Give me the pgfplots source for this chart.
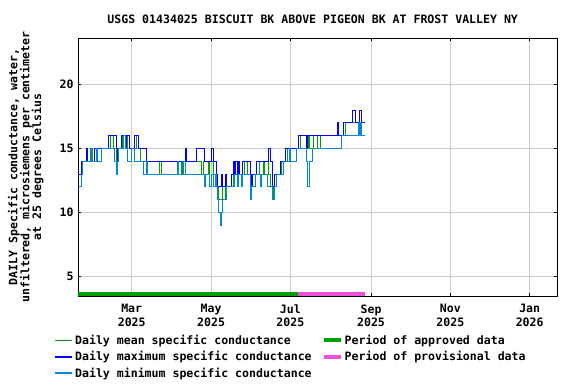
\documentclass[border=0pt]{standalone}
\usepackage{pgfplots}
\pgfplotsset{compat=1.18}
\usepackage{fontspec}
\setmainfont{DejaVu Sans Mono}
\definecolor{cmean}{RGB}{0,160,0}
\definecolor{cmax}{RGB}{0,0,255}
\definecolor{cmin}{RGB}{0,136,210}
\definecolor{capp}{RGB}{0,160,0}
\definecolor{cprov}{RGB}{240,80,224}
\definecolor{cgrid}{RGB}{204,204,204}
\begin{document}
\begin{tikzpicture}[font=\bfseries\fontsize{11.6}{12}\selectfont]
\useasboundingbox (0,0) rectangle (576bp,384bp);
\begin{axis}[
  at={(78bp,88bp)}, anchor=south west,
  scale only axis, width=479bp, height=258bp,
  xmin=17.7, xmax=386, ymin=3.43, ymax=23.66,
  axis line style={black, line width=0.9bp},
  xtick={59,120,181,243,304,365},
  xticklabels={{Mar\\[1.5bp]2025},{May\\[1.5bp]2025},{Jul\\[1.5bp]2025},{Sep\\[1.5bp]2025},{Nov\\[1.5bp]2025},{Jan\\[1.5bp]2026}},
  xticklabel style={align=center, yshift=-5bp},
  ytick={5,10,15,20},
  yticklabel style={xshift=-1bp},
  /pgf/number format/assume math mode=true,
  grid=major,
  major grid style={cgrid, line width=0.9bp},
  tick style={black, line width=0.7bp},
  major tick length=3bp,
  tick align=inside,
  title={USGS 01434025 BISCUIT BK ABOVE PIGEON BK AT FROST VALLEY NY},
  title style={at={(axis description cs:0.49,1.05)}, anchor=center},
  ylabel={DAILY Specific conductance, water,\\unfiltered, microsiemens per centimeter\\at 25 degrees Celsius},
  ylabel style={at={(axis description cs:-0.109,0.5)}, anchor=center, align=center},
  legend columns=2,
  legend cell align=left,
  legend style={draw=none, fill=none, at={(axis description cs:-0.056,-0.135)}, anchor=north west,
    /tikz/every even column/.append style={column sep=8bp}, row sep=1.5bp,
    font=\bfseries\fontsize{11.6}{12}\selectfont},
]
\addlegendimage{cmean, line width=1.8bp}
\addlegendentry{Daily mean specific conductance}
\addlegendimage{capp, line width=4bp}
\addlegendentry{Period of approved data}
\addlegendimage{cmax, line width=1.8bp}
\addlegendentry{Daily maximum specific conductance}
\addlegendimage{cprov, line width=4bp}
\addlegendentry{Period of provisional data}
\addlegendimage{cmin, line width=1.8bp}
\addlegendentry{Daily minimum specific conductance}

% daily mean
\addplot[const plot mark left, cmean, line width=0.9bp, forget plot] coordinates {
(18,12)(20,13)(21,14)(27,15)(28,14)(30,15)(43,16)(45,15)(47,14)(49,15)(52,16)(54,15)(56,16)(57,15)(63,16)(64,15)(66,14)(80,13)(82,14)(95,13)(97,14)(99,13)(100,14)(113,13)(114,14)(118,13)(119,14)(122,13)(124,12)(126,11)(129,12)(131,11)(132,12)(137,13)(140,14)(141,13)(146,14)(148,13)(150,12)(152,13)(157,14)(160,13)(161,14)(164,13)(166,12)(168,11)(169,12)(170,13)(174,14)(179,15)(189,16)(193,15)(195,16)(196,15)(199,16)(202,15)(204,16)(223,17)(238.5,17)
};
% daily maximum
\addplot[const plot mark left, cmax, line width=0.9bp, forget plot] coordinates {
(18,13)(20,14)(24,15)(25,14)(28,15)(29,14)(30,15)(41,16)(47,15)(48,14)(49,15)(51,16)(54,15)(55,16)(57,15)(61,16)(64,15)(70,14)(100,15)(101,14)(109,15)(115,14)(120,15)(122,14)(124,13)(125,12)(128,13)(129,12)(131,13)(132,12)(136,13)(137,14)(138,13)(139,14)(140,13)(141,14)(142,13)(144,14)(150,13)(151,12)(152,13)(155,14)(164,15)(166,14)(167,12)(169,13)(173,14)(177,15)(187,16)(193,15)(194,16)(217,17)(218,16)(222,17)(229,18)(231,17)(234,18)(236,17)(238.5,17)
};
% daily minimum
\addplot[const plot mark left, cmin, line width=0.9bp, forget plot] coordinates {
(18,12)(20,13)(21,14)(28,15)(29,14)(32,15)(33,14)(36,15)(46,14)(47,13)(48,14)(49,15)(53,16)(54,15)(56,14)(59,15)(61,14)(68,13)(70,14)(71,13)(94,14)(95,13)(98,14)(100,13)(115,12)(116,13)(119,12)(120,13)(122,12)(123,13)(124,12)(125,11)(126,10)(127,9)(128,10)(129,11)(132,12)(138,13)(140,12)(141,13)(143,12)(144,13)(150,11)(151,12)(154,13)(158,12)(159,13)(163,12)(167,11)(169,12)(170,13)(176,14)(180,15)(181,14)(186,15)(193,14)(194,12)(196,14)(198,15)(220,16)(233,17)(234,16)(235,17)(236,16)(238.5,16)
};
% approval periods
\addplot[capp, line width=3.5bp, forget plot] coordinates {(17.7,3.57)(187.2,3.57)};
\addplot[cprov, line width=3.5bp, forget plot] coordinates {(187.2,3.57)(238.5,3.57)};
\end{axis}
\end{tikzpicture}
\end{document}
